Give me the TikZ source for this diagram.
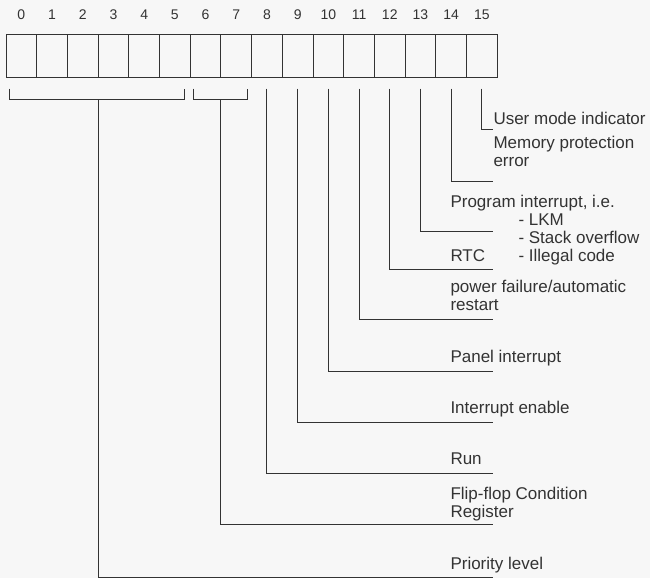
\documentclass[tikz,border=0pt]{standalone}
\usepackage{fontspec}
\setmainfont{Liberation Sans}
\begin{document}
\begin{tikzpicture}[x=1pt, y=-1pt, line width=1pt, color=black!80]
      \fill[black!3] (0,0) rectangle (650,578);
      \useasboundingbox (0,0) rectangle (650,578);
      \tikzstyle{bit}=[draw, minimum width=30.7pt, minimum height=42pt, inner sep=0pt]
      \tikzstyle{num}=[inner sep=0pt, font=\fontsize{14}{16}\selectfont]
      \tikzstyle{lbl}=[anchor=base west, inner sep=0pt, font=\fontsize{17}{19}\selectfont]
      \foreach \i in {0, ..., 15}
      {
        \path (21.35+\i*30.7, 56) node[bit] (b\i) {};
        \path (21.35+\i*30.7, 15) node[num] (n\i) {\i};
        \path (b\i.south) ++(0, 11) coordinate (t\i);
      }

      \foreach \i/\y in {8/473, 9/422, 10/371, 11/319, 12/269, 13/231, 14/181, 15/129}
      {
        \path (493, \y) coordinate (e\i);
        \draw (t\i) |- (e\i);
      }

      \path
        (9, 99) coordinate (pl0)
        (184, 99) coordinate (pl1)
        (98, 99) coordinate (pl)
        (193, 99) coordinate (ff0)
        (247, 99) coordinate (ff1)
        (220, 99) coordinate (ff)
        (493, 577) coordinate (epl)
        (493, 524) coordinate (eff);

      \draw
        (t0 -| pl0) -- (pl0) -- (pl1) -- (t0 -| pl1)
        (t0 -| ff0) -- (ff0) -- (ff1) -- (t0 -| ff1)
        (pl) |- (epl)
        (ff) |- (eff);

      \path (493, 124) node[lbl] (umi) {User mode indicator};
      \path (493, 148) node[lbl] (mpe) {Memory protection};
      \path (493, 166.5) node[lbl] (mpe2) {error};
      \path (450, 207) node[lbl] (pgi) {Program interrupt, i.e.};
      \path (518, 225) node[lbl] (lkm) {- LKM};
      \path (518, 243) node[lbl] (sof) {- Stack overflow};
      \path (450, 261) node[lbl] (rtc) {RTC};
      \path (518, 261) node[lbl] (ilc) {- Illegal code};
      \path (450, 292) node[lbl] (pfa) {power failure/automatic};
      \path (450, 310) node[lbl] (pfa2) {restart};
      \path (450, 362) node[lbl] (pni) {Panel interrupt};
      \path (450, 413) node[lbl] (ien) {Interrupt enable};
      \path (450, 464) node[lbl] (run) {Run};
      \path (450, 499) node[lbl] (fcr) {Flip-flop Condition};
      \path (450, 517.5) node[lbl] (fcr2) {Register};
      \path (450, 569) node[lbl] (pri) {Priority level};
    \end{tikzpicture}
\end{document}
